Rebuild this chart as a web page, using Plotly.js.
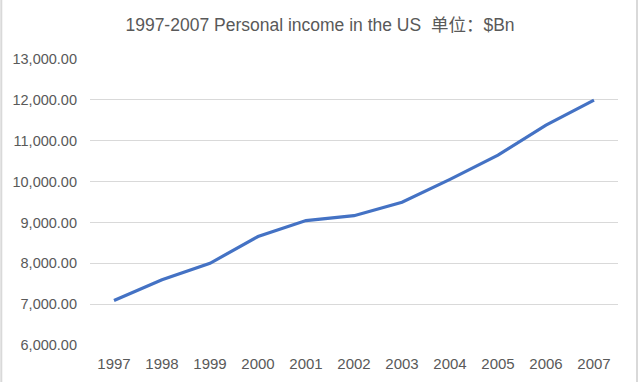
<!DOCTYPE html>
<html>
<head>
<meta charset="utf-8">
<script src="https://cdn.plot.ly/plotly-3.0.1.min.js"></script>
<style>html,body{margin:0;padding:0;background:#fff;}#chart{width:640px;height:382px;}</style>
</head>
<body>
<div id="chart"></div>
<script>
const years = ['1997','1998','1999','2000','2001','2002','2003','2004','2005','2006','2007'];
const income = [7090, 7595, 8000, 8655, 9045, 9165, 9495, 10055, 10645, 11380, 11995];
const titleText = '1997-2007 Personal income in the US  单位：$Bn';

const fontFam = '"Liberation Sans", "Noto Sans CJK SC", Arial, sans-serif';

Plotly.newPlot('chart', [{
  x: years,
  y: income,
  type: 'scatter',
  mode: 'lines',
  line: {color: '#4472C4', width: 3.2},
  hoverinfo: 'x+y'
}], {
  width: 640,
  height: 382,
  margin: {l: 90, r: 22, t: 59, b: 37},
  paper_bgcolor: '#ffffff',
  plot_bgcolor: '#ffffff',
  showlegend: false,
  title: {
    text: titleText,
    font: {family: fontFam, size: 17.5, color: '#595959'},
    x: 0.5, xanchor: 'center', y: 0.935, yanchor: 'middle'
  },
  xaxis: {
    type: 'category',
    range: [-0.5, 10.5],
    showgrid: false,
    zeroline: false,
    showline: false,
    ticks: '',
    tickfont: {family: fontFam, size: 15, color: '#595959'},
    ticklabelstandoff: 8
  },
  yaxis: {
    range: [6000, 13000],
    dtick: 1000,
    tick0: 6000,
    tickformat: ',.2f',
    showgrid: true,
    gridcolor: '#d9d9d9',
    gridwidth: 1.3,
    zeroline: false,
    showline: false,
    ticks: '',
    tickfont: {family: fontFam, size: 14.5, color: '#595959'},
    ticklabelstandoff: 12
  },
  shapes: [
    {type: 'line', xref: 'paper', yref: 'paper', x0: -0.168, x1: -0.168, y0: -0.2, y1: 1.3, line: {color: '#d9d9d9', width: 2}},
    {type: 'line', xref: 'paper', yref: 'paper', x0: 1.036, x1: 1.036, y0: -0.2, y1: 1.3, line: {color: '#d9d9d9', width: 2}}
  ]
}, {displayModeBar: false, staticPlot: false});
</script>
</body>
</html>
